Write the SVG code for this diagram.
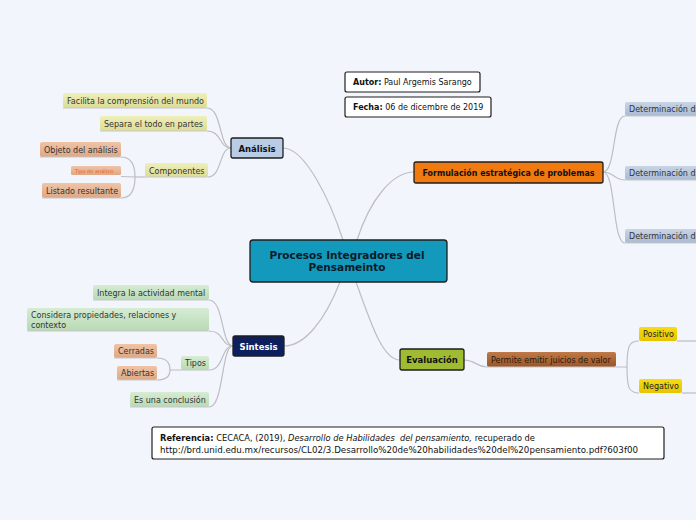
<svg xmlns="http://www.w3.org/2000/svg" width="696" height="520" viewBox="0 0 696 520">
<defs>
<linearGradient id="gY" x1="0" y1="0" x2="0" y2="1"><stop offset="0" stop-color="#efefba"/><stop offset="1" stop-color="#dcdc96"/></linearGradient>
<linearGradient id="gO" x1="0" y1="0" x2="0" y2="1"><stop offset="0" stop-color="#f0c4a6"/><stop offset="1" stop-color="#dca886"/></linearGradient>
<linearGradient id="gG" x1="0" y1="0" x2="0" y2="1"><stop offset="0" stop-color="#d6ecd3"/><stop offset="1" stop-color="#b8d9b4"/></linearGradient>
<linearGradient id="gB" x1="0" y1="0" x2="0" y2="1"><stop offset="0" stop-color="#c9d5e6"/><stop offset="1" stop-color="#a9bad2"/></linearGradient>
<linearGradient id="gBr" x1="0" y1="0" x2="0" y2="1"><stop offset="0" stop-color="#c07a48"/><stop offset="1" stop-color="#995526"/></linearGradient>
<linearGradient id="gYe" x1="0" y1="0" x2="0" y2="1"><stop offset="0" stop-color="#f8dc10"/><stop offset="1" stop-color="#e6c400"/></linearGradient>
</defs>
<style>
.bg{fill:#f3f5fd}
.con{fill:none;stroke:#bdbdc4;stroke-width:1.2}
.ul{fill:none;stroke:#c8c8cc;stroke-width:1.2}
.main{stroke:#1e1e1e;stroke-width:1.3}
.box{fill:#ffffff;stroke:#1e1e1e;stroke-width:1.2}
text{font-family:"DejaVu Sans","Verdana",sans-serif}
.t{font-size:8px;fill:#333333}
.b{font-weight:bold}
.mt{font-size:8.5px;font-weight:bold;fill:#111111}
</style>
<rect class="bg" x="0" y="0" width="696" height="520"/>

<g id="connectors">
<path class="con" d="M343,240 C330,200 305,148 283,148"/>
<path class="con" d="M357,240 C370,200 392,172 414,172"/>
<path class="con" d="M340,282 C325,320 305,346 284,346"/>
<path class="con" d="M356,282 C370,320 382,360 400,360"/>
<path class="con" d="M231,148 C219,148 222,108 207,108"/>
<path class="con" d="M231,148 C219,148 222,131 207,131"/>
<path class="con" d="M231,148 C219,148 222,177 208,177"/>
<path class="con" d="M145,177 L135,177"/>
<path class="con" d="M135,177 C135,165 131,157 121,157"/>
<path class="con" d="M135,177 C135,190 131,198 121,198"/>
<path class="con" d="M121,176.5 L135,177"/>
<path class="con" d="M233,346 C221,346 224,300 209,300"/>
<path class="con" d="M233,346 C221,346 224,331 209,331"/>
<path class="con" d="M233,346 C221,346 224,370 209,370"/>
<path class="con" d="M233,346 C221,346 224,407 209,407"/>
<path class="con" d="M181,370 L170,370 C170,363 166,358 157,358"/>
<path class="con" d="M170,370 C170,376 166,380 157,380"/>
<path class="con" d="M603,172 C616,172 612,116 625,116"/>
<path class="con" d="M603,172 C614,172 614,180 625,180"/>
<path class="con" d="M603,172 C616,172 612,243 625,243"/>
<path class="con" d="M464,360 C476,360 476,367 487,367"/>
<path class="con" d="M616,367 L627,367 C627,346 629,341 639,341"/>
<path class="con" d="M627,367 C627,388 629,393 639,393"/>
<path class="con" d="M677,341 L696,341"/>
<path class="con" d="M682,393 L696,393"/>
</g>

<g id="central">
<rect class="main" x="250" y="240" width="197" height="42" rx="3" fill="#1399bb"/>
<text x="347" y="259" text-anchor="middle" font-size="10.5" font-weight="bold" fill="#0c1a28" textLength="155" lengthAdjust="spacingAndGlyphs">Procesos Integradores del</text>
<text x="347" y="271" text-anchor="middle" font-size="10.5" font-weight="bold" fill="#0c1a28">Pensameinto</text>
</g>

<g id="autor">
<rect class="box" x="345" y="72" width="135" height="20" rx="2"/>
<text class="t" x="353" y="85" style="fill:#111"><tspan class="b">Autor:</tspan> Paul Argemis Sarango</text>
</g>
<g id="fecha">
<rect class="box" x="345" y="97" width="146" height="20" rx="2"/>
<text class="t" x="353" y="110" style="fill:#111"><tspan class="b">Fecha:</tspan> 06 de dicembre de 2019</text>
</g>

<g id="analisis">
<rect class="main" x="231" y="138" width="52" height="20" rx="2" fill="#b8cce6"/>
<text class="mt" x="257" y="151.5" text-anchor="middle">Análisis</text>
</g>
<g id="facilita">
<rect x="63" y="93" width="144" height="15" rx="2" fill="url(#gY)"/>
<line class="ul" x1="63" y1="108" x2="207" y2="108"/>
<text class="t" x="67" y="104">Facilita la comprensión del mundo</text>
</g>
<g id="separa">
<rect x="100" y="116" width="107" height="15" rx="2" fill="url(#gY)"/>
<line class="ul" x1="100" y1="131" x2="207" y2="131"/>
<text class="t" x="104" y="127">Separa el todo en partes</text>
</g>
<g id="componentes">
<rect x="145" y="163" width="63" height="14" rx="2" fill="url(#gY)"/>
<line class="ul" x1="145" y1="177" x2="208" y2="177"/>
<text class="t" x="149" y="173.5">Componentes</text>
</g>
<g id="objeto">
<rect x="40" y="142" width="81" height="15" rx="2" fill="url(#gO)"/>
<line class="ul" x1="40" y1="157" x2="121" y2="157"/>
<text class="t" x="44" y="153">Objeto del análisis</text>
</g>
<g id="tipo-analisis">
<rect x="71" y="166" width="50" height="9" rx="1.5" fill="url(#gO)"/>
<text x="75" y="172.5" font-size="5" fill="#f05a28">Tipo de análisis</text>
</g>
<g id="listado">
<rect x="42" y="183" width="79" height="15" rx="2" fill="url(#gO)"/>
<line class="ul" x1="42" y1="198" x2="121" y2="198"/>
<text class="t" x="46" y="194">Listado resultante</text>
</g>

<g id="sintesis">
<rect class="main" x="233" y="336" width="51" height="20" rx="2" fill="#0e1f5e"/>
<text class="mt" x="258.5" y="349.5" text-anchor="middle" style="fill:#ffffff">Sintesis</text>
</g>
<g id="integra">
<rect x="93" y="285" width="116" height="15" rx="2" fill="url(#gG)"/>
<line class="ul" x1="93" y1="300" x2="209" y2="300"/>
<text class="t" x="97" y="296">Integra la actividad mental</text>
</g>
<g id="considera">
<rect x="27" y="308" width="182" height="23" rx="2" fill="url(#gG)"/>
<line class="ul" x1="27" y1="331" x2="209" y2="331"/>
<text class="t" x="31" y="318">Considera propiedades, relaciones y</text>
<text class="t" x="31" y="328">contexto</text>
</g>
<g id="tipos">
<rect x="181" y="356" width="28" height="14" rx="2" fill="url(#gG)"/>
<line class="ul" x1="181" y1="370" x2="209" y2="370"/>
<text class="t" x="185" y="366">Tipos</text>
</g>
<g id="cerradas">
<rect x="114" y="344" width="43" height="14" rx="2" fill="url(#gO)"/>
<line class="ul" x1="114" y1="358" x2="157" y2="358"/>
<text class="t" x="118" y="354">Cerradas</text>
</g>
<g id="abiertas">
<rect x="117" y="366" width="40" height="14" rx="2" fill="url(#gO)"/>
<line class="ul" x1="117" y1="380" x2="157" y2="380"/>
<text class="t" x="121" y="376">Abiertas</text>
</g>
<g id="conclusion">
<rect x="130" y="392" width="79" height="15" rx="2" fill="url(#gG)"/>
<line class="ul" x1="130" y1="407" x2="209" y2="407"/>
<text class="t" x="134" y="403">Es una conclusión</text>
</g>

<g id="formulacion">
<rect class="main" x="414" y="162" width="189" height="21" rx="2" fill="#f07a10"/>
<text class="mt" x="508.5" y="175.5" text-anchor="middle" textLength="172" lengthAdjust="spacingAndGlyphs">Formulación estratégica de problemas</text>
</g>
<g id="det1">
<rect x="625" y="102" width="80" height="14" rx="2" fill="url(#gB)"/>
<line class="ul" x1="625" y1="116" x2="696" y2="116"/>
<text class="t" x="629" y="112">Determinación d</text>
</g>
<g id="det2">
<rect x="625" y="166" width="80" height="14" rx="2" fill="url(#gB)"/>
<line class="ul" x1="625" y1="180" x2="696" y2="180"/>
<text class="t" x="629" y="176">Determinación d</text>
</g>
<g id="det3">
<rect x="625" y="229" width="80" height="14" rx="2" fill="url(#gB)"/>
<line class="ul" x1="625" y1="243" x2="696" y2="243"/>
<text class="t" x="629" y="239">Determinación d</text>
</g>

<g id="evaluacion">
<rect class="main" x="400" y="349" width="64" height="21" rx="2" fill="#9fbb32"/>
<text class="mt" x="432" y="362.5" text-anchor="middle">Evaluación</text>
</g>
<g id="permite">
<rect x="487" y="352" width="129" height="15" rx="2" fill="url(#gBr)"/>
<line class="ul" x1="487" y1="367" x2="616" y2="367"/>
<text class="t" x="491" y="363" style="fill:#2a1a10">Permite emitir juicios de valor</text>
</g>
<g id="positivo">
<rect x="639" y="327" width="38" height="14" rx="2" fill="url(#gYe)"/>
<text class="t" x="643" y="337" style="fill:#222">Positivo</text>
</g>
<g id="negativo">
<rect x="639" y="379" width="43" height="14" rx="2" fill="url(#gYe)"/>
<text class="t" x="643" y="389" style="fill:#222">Negativo</text>
</g>

<g id="referencia">
<rect class="box" x="152" y="427" width="512" height="32" rx="2"/>
<text class="t" x="160" y="440.5" style="fill:#111;white-space:pre" textLength="375" lengthAdjust="spacingAndGlyphs"><tspan class="b">Referencia:</tspan> CECACA, (2019), <tspan font-style="italic">Desarrollo de Habilidades  del pensamiento,</tspan> recuperado de</text>
<text class="t" x="160" y="452.5" style="fill:#111" textLength="478" lengthAdjust="spacingAndGlyphs">http://brd.unid.edu.mx/recursos/CL02/3.Desarrollo%20de%20habilidades%20del%20pensamiento.pdf?603f00</text>
</g>
</svg>
